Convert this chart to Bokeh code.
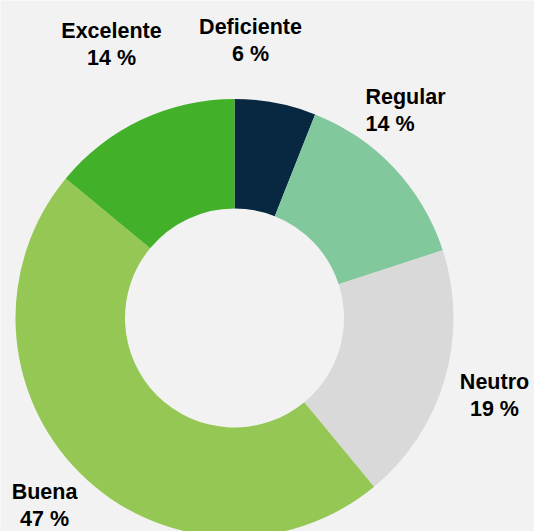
import math
from bokeh.plotting import figure
from bokeh.models import Range1d, ColumnDataSource
from bokeh.core.properties import value
from bokeh.embed import file_html
from bokeh.resources import INLINE

categories = ["Deficiente", "Regular", "Neutro", "Buena", "Excelente"]
percents = [6, 14, 19, 47, 14]
colors = ["#072840", "#82c89d", "#d9d9d9", "#95c754", "#43b02a"]

# label anchor positions (layout, pixel offsets from donut centre, y up)
label_x = [16, 131, 260, -190, -123]
label_y = [303.5, 233.5, -51.5, -161.5, 299.5]
label_align = ["center", "left", "center", "center", "center"]

total = sum(percents)
starts, ends = [], []
acc = 0.0
for v in percents:
    starts.append(math.pi / 2 - 2 * math.pi * acc / total)
    acc += v
    ends.append(math.pi / 2 - 2 * math.pi * acc / total)

src = ColumnDataSource(dict(start=starts, end=ends, color=colors, cat=categories))

W, H = 534, 531
cx, cy = 234, 317.5
p = figure(width=W, height=H, output_backend="svg", toolbar_location=None,
           x_range=Range1d(-cx, W - cx), y_range=Range1d(-(H - cy), cy),
           min_border=0, background_fill_color="#f2f2f2", border_fill_color="#f2f2f2")
p.axis.visible = False
p.grid.visible = False
p.outline_line_color = None

p.annular_wedge(x=0, y=0, inner_radius=109.5, outer_radius=219,
                inner_radius_units="screen", outer_radius_units="screen",
                start_angle="start", end_angle="end", direction="clock",
                fill_color="color", line_color=None, source=src)

texts = [f"{c}\n{v} %" for c, v in zip(categories, percents)]
tsrc = ColumnDataSource(dict(x=label_x, y=label_y, t=texts, align=label_align))
p.text(x="x", y="y", text="t", text_align="align", text_baseline="top",
       text_font=value("Liberation Sans"), text_font_style="bold",
       text_font_size="21.5px", text_color="#000000", text_line_height=1.16,
       source=tsrc)

open("out.html", "w").write(file_html(p, INLINE))
